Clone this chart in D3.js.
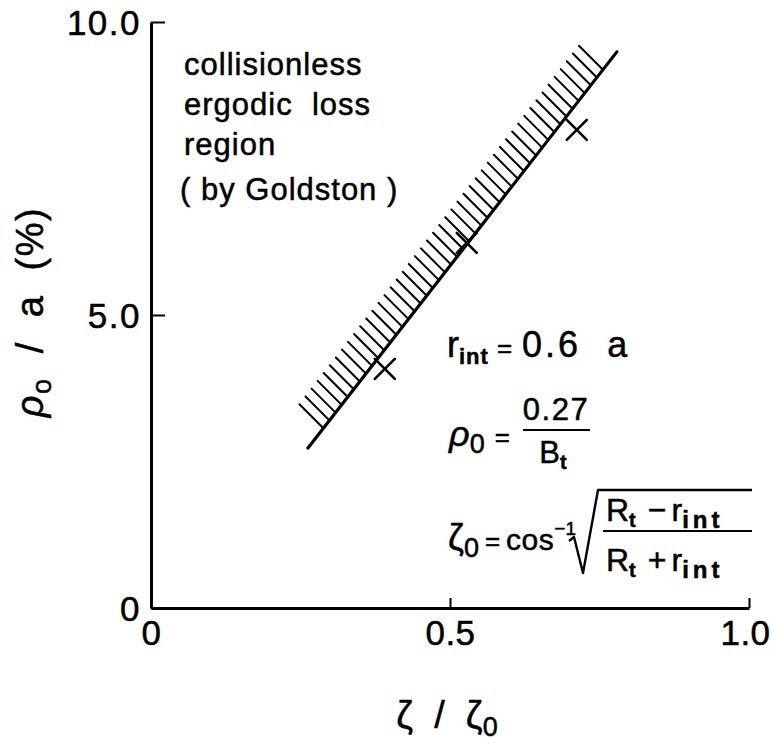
<!DOCTYPE html>
<html>
<head>
<meta charset="utf-8">
<script src="https://cdn.jsdelivr.net/npm/d3@7"></script>
<style>
  html, body { margin: 0; padding: 0; background: #fff; }
  svg text { font-family: "Liberation Sans", "DejaVu Sans", sans-serif; fill: #000; stroke: #000; stroke-width: 0.5px; }
</style>
</head>
<body>
<div id="chart"></div>
<script>
// Axis ticks
const xTickValues = [0, 0.5, 1.0];
const xTickLabels = ["0", "0.5", "1.0"];
const yTickValues = [0, 5, 10];
const yTickLabels = ["0", "5.0", "10.0"];

// Boundary of the collisionless ergodic loss region (ζ/ζ0, ρ0/a %)
const boundaryX = [0.2625, 0.779];
const boundaryY = [2.73, 9.49];

// Measured points (ζ/ζ0, ρ0/a %)
const pointX = [0.391, 0.528, 0.712];
const pointY = [4.08, 6.23, 8.16];

const W = 773, H = 750;
const margin = { left: 151, right: 24, top: 22, bottom: 142 };

const svg = d3.select("#chart").append("svg")
  .attr("width", W).attr("height", H);

const x = d3.scaleLinear().domain([0, 1]).range([margin.left, W - margin.right]);
const y = d3.scaleLinear().domain([0, 10]).range([H - margin.bottom, margin.top]);

// Axes: ticks point inward, labels outside
const yAxis = d3.axisLeft(y)
  .tickValues(yTickValues)
  .tickFormat((d, i) => yTickLabels[i])
  .tickSizeInner(-14).tickSizeOuter(0).tickPadding(10);
const xAxis = d3.axisBottom(x)
  .tickValues(xTickValues)
  .tickFormat((d, i) => xTickLabels[i])
  .tickSizeInner(-10).tickSizeOuter(0).tickPadding(12);

const gy = svg.append("g").attr("transform", `translate(${x(0)},0)`).call(yAxis);
const gx = svg.append("g").attr("transform", `translate(0,${y(0)})`).call(xAxis);

[gx, gy].forEach(g => {
  g.select(".domain").attr("stroke", "#000").attr("stroke-width", 3);
  g.selectAll(".tick line").attr("stroke", "#000").attr("stroke-width", 2);
  g.selectAll(".tick text")
    .attr("font-size", 35)
    .style("font-family", "'Liberation Sans', sans-serif");
});
gy.selectAll(".tick text").attr("dy", "0.36em").attr("letter-spacing", 1.5);
gx.selectAll(".tick text").attr("dy", "0.72em").attr("letter-spacing", 0.5)
  .attr("dx", (d, i) => i === xTickValues.length - 1 ? -4 : 0);

// Boundary line with hatching on the loss side
const p0 = [x(boundaryX[0]), y(boundaryY[0])];
const p1 = [x(boundaryX[1]), y(boundaryY[1])];

const nHatch = 47;
const tStart = 0.05, tEnd = 0.955;
const hatch = d3.range(nHatch).map(i => {
  const t = tStart + (tEnd - tStart) * i / (nHatch - 1);
  return [p0[0] + (p1[0] - p0[0]) * t, p0[1] + (p1[1] - p0[1]) * t];
});
svg.append("g").selectAll("line").data(hatch).join("line")
  .attr("x1", d => d[0]).attr("y1", d => d[1])
  .attr("x2", d => d[0] - 24).attr("y2", d => d[1] - 24)
  .attr("stroke", "#000").attr("stroke-width", 2).attr("stroke-linecap", "round");

svg.append("line")
  .attr("x1", p0[0]).attr("y1", p0[1]).attr("x2", p1[0]).attr("y2", p1[1])
  .attr("stroke", "#000").attr("stroke-width", 3.2).attr("stroke-linecap", "round");

// Cross markers
const arm = 10;
const marks = svg.append("g").selectAll("g").data(pointX.map((v, i) => [v, pointY[i]])).join("g")
  .attr("transform", d => `translate(${x(d[0])},${y(d[1])})`);
marks.append("line").attr("x1", -arm).attr("y1", -arm).attr("x2", arm).attr("y2", arm);
marks.append("line").attr("x1", -arm).attr("y1", arm).attr("x2", arm).attr("y2", -arm);
marks.selectAll("line").attr("stroke", "#000").attr("stroke-width", 2.6).attr("stroke-linecap", "round");

// Region annotation
const note = svg.append("g").attr("font-size", 31).attr("letter-spacing", 1);
[["collisionless", 184, 75], ["ergodic  loss", 184, 115], ["region", 184, 155], ["( by Goldston )", 180, 200]]
  .forEach(([s, tx, ty]) => note.append("text").attr("x", tx).attr("y", ty)
    .style("white-space", "pre").text(s));

// Axis titles
const yTitle = svg.append("text")
  .attr("transform", "translate(43,312) rotate(-90)")
  .attr("text-anchor", "middle").attr("font-size", 38).attr("letter-spacing", 1.5)
  .style("white-space", "pre");
yTitle.append("tspan").attr("font-style", "italic").text("ρ");
yTitle.append("tspan").attr("font-size", 27).attr("dy", 8).text("o");
yTitle.append("tspan").attr("dy", -8).text("  /  a  (%)");

const xTitle = svg.append("text")
  .attr("x", 447).attr("y", 728)
  .attr("text-anchor", "middle").attr("font-size", 38)
  .style("white-space", "pre");
xTitle.append("tspan").text("ζ  /  ζ");
xTitle.append("tspan").attr("font-size", 27).attr("dy", 8).text("0");

// Definitions
const f1 = svg.append("text").attr("x", 447).attr("y", 357).attr("font-size", 36);
f1.append("tspan").text("r");
f1.append("tspan").attr("font-size", 22).attr("dy", 7).attr("font-weight", "bold").attr("letter-spacing", 1).text("int");
f1.append("tspan").attr("dy", -7).attr("dx", 8).attr("font-size", 26).text("=");
f1.append("tspan").attr("dx", 10).attr("letter-spacing", 3).style("white-space", "pre").text("0.6  a");

const f2 = svg.append("text").attr("x", 449).attr("y", 446).attr("font-size", 36);
f2.append("tspan").attr("font-style", "italic").text("ρ");
f2.append("tspan").attr("font-size", 27).attr("dy", 7).text("0");
f2.append("tspan").attr("dy", -7).attr("dx", 10).attr("font-size", 26).text("=");
svg.append("text").attr("x", 556).attr("y", 420).attr("text-anchor", "middle")
  .attr("font-size", 31).attr("letter-spacing", 1.5).text("0.27");
svg.append("line").attr("x1", 523).attr("x2", 590).attr("y1", 430).attr("y2", 430)
  .attr("stroke", "#000").attr("stroke-width", 2.2);
const bt = svg.append("text").attr("x", 553).attr("y", 463).attr("text-anchor", "middle").attr("font-size", 31);
bt.append("tspan").text("B");
bt.append("tspan").attr("font-size", 20).attr("dy", 6).attr("font-weight", "bold").text("t");

const f3 = svg.append("text").attr("x", 448).attr("y", 550).attr("font-size", 36);
f3.append("tspan").text("ζ");
f3.append("tspan").attr("font-size", 27).attr("dy", 7).text("0");
f3.append("tspan").attr("dy", -7).attr("dx", 6).attr("font-size", 26).text("=");
f3.append("tspan").attr("dx", 6).attr("font-size", 30).attr("letter-spacing", 0.5).text("cos");
f3.append("tspan").attr("dy", -15).attr("font-size", 19).text("−1");

// Square root sign and fraction
svg.append("path")
  .attr("d", "M569,541 L574,537 L583,573 L598,490 L752,490")
  .attr("fill", "none").attr("stroke", "#000").attr("stroke-width", 2.4)
  .attr("stroke-linejoin", "round");
svg.append("line").attr("x1", 603).attr("x2", 752).attr("y1", 531).attr("y2", 531)
  .attr("stroke", "#000").attr("stroke-width", 2.2);
const fracRow = (ty, op) => {
  const t = svg.append("text").attr("x", 606).attr("y", ty).attr("font-size", 32);
  t.append("tspan").text("R");
  t.append("tspan").attr("font-size", 20).attr("dy", 6).attr("font-weight", "bold").text("t");
  t.append("tspan").attr("dy", -6).attr("dx", 12).text(op);
  t.append("tspan").attr("dx", 5).text("r");
  t.append("tspan").attr("font-size", 24).attr("dy", 7).attr("font-weight", "bold")
    .attr("letter-spacing", 4).text("int");
};
fracRow(521, "−");
fracRow(571, "+");
</script>
</body>
</html>
